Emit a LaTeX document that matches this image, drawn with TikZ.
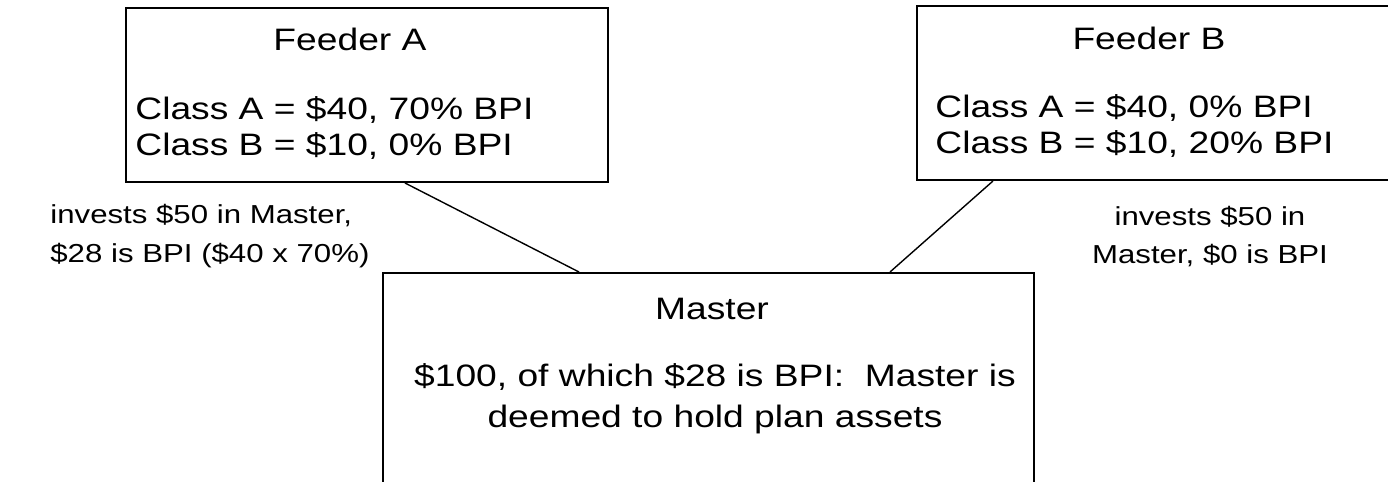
\documentclass[tikz,border=0pt]{standalone}
\usepackage{fontspec}
\setmainfont[FakeStretch=1.2]{Liberation Sans}
\usetikzlibrary{calc,positioning}

\begin{document}
\begin{tikzpicture}[x=0.5pt,y=-0.5pt,
		box/.style={draw, line width=1pt, rectangle, inner sep=0pt},
		boxtext/.style={inner sep=0pt, font=\fontsize{15.5}{18}\selectfont},
		note/.style={inner sep=0pt, font=\fontsize{13}{16}\selectfont},
		link/.style={draw, line width=0.7pt}
		]
		\useasboundingbox (0,0) rectangle (1388,482);
		\clip (0,0) rectangle (1388,482);

		% --- boxes ---
		\node[box, minimum width=241pt, minimum height=87pt] (feederA) at (367,95) {};
		\node[box, minimum width=241pt, minimum height=87pt] (feederB) at (1158,93) {};
		\node[box, minimum width=325.5pt, minimum height=128.5pt] (master) at (708.5,401.5) {};

		% --- Feeder A ---
		\node[boxtext, anchor=base] (titleA) at (350,50) {Feeder A};
		\node[boxtext, anchor=base west] (classAA) at (135,119) {Class A = \$40, 70\% BPI};
		\node[boxtext, anchor=base west] (classAB) at (135,155) {Class B = \$10, 0\% BPI};

		% --- Feeder B ---
		\node[boxtext, anchor=base] (titleB) at (1149,49) {Feeder B};
		\node[boxtext, anchor=base west] (classBA) at (935,117) {Class A = \$40, 0\% BPI};
		\node[boxtext, anchor=base west] (classBB) at (935,153) {Class B = \$10, 20\% BPI};

		% --- Master ---
		\node[boxtext, anchor=base] (titleM) at (712,319) {Master};
		\node[boxtext, anchor=base] (lineM1) at (715,386) {\$100, of which \$28 is BPI:\ \ Master is};
		\node[boxtext, anchor=base] (lineM2) at (715,427) {deemed to hold plan assets};

		% --- notes ---
		\node[note, anchor=base west] (noteA1) at (50,223) {invests \$50 in Master,};
		\node[note, anchor=base west] (noteA2) at (50,262) {\$28 is BPI (\$40 x 70\%)};
		\node[note, anchor=base] (noteB1) at (1210,225) {invests \$50 in};
		\node[note, anchor=base] (noteB2) at (1210,263) {Master, \$0 is BPI};

		% --- connectors ---
		\draw[link] ($(feederA.south west)+(280,0)$) -- ($(master.north west)+(197,0)$);
		\draw[link] ($(feederB.south west)+(77,0)$) -- ($(master.north west)+(508,0)$);

	\end{tikzpicture}
\end{document}
